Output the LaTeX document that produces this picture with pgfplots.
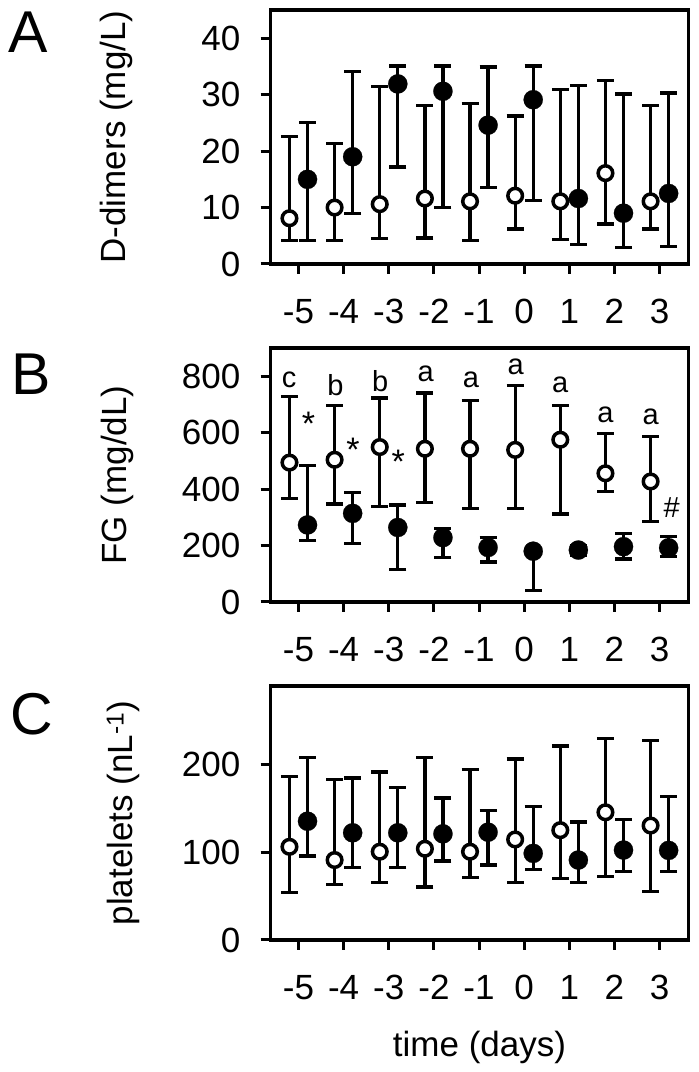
\documentclass[border=0pt]{standalone}
\usepackage{fontspec}
\setmainfont{Liberation Sans}
\usepackage{pgfplots}
\usepackage{pgfplotstable}
\pgfplotsset{compat=1.18}

% D-dimers
\pgfplotstableread{
t y hi lo
-5 8.1 22.6 4.1
-4 10.0 21.4 4.1
-3 10.6 31.4 4.5
-2 11.6 28.1 4.6
-1 11.1 28.4 4.1
0 12.1 26.2 6.2
1 11.1 30.9 4.4
2 16.1 32.5 7.1
3 11.1 28.1 6.2
}\Aopen
\pgfplotstableread{
t y hi lo
-5 15.0 25.1 4.1
-4 19.0 34.1 9.0
-3 31.9 35.1 17.2
-2 30.6 35.1 10.0
-1 24.6 34.9 13.5
0 29.1 35.1 11.3
1 11.6 31.6 3.4
2 9.0 30.1 2.9
3 12.5 30.3 3.1
}\Afill
% FG
\pgfplotstableread{
t y hi lo
-5 494 729 367
-4 504 697 347
-3 549 723 338
-2 543 741 353
-1 543 715 332
0 539 768 332
1 575 697 312
2 456 596 391
3 427 587 284
}\Bopen
\pgfplotstableread{
t y hi lo
-5 273 484 219
-4 314 389 207
-3 264 344 116
-2 228 261 158
-1 193 228 142
0 180 180 41
1 184 201 164
2 196 243 152
3 192 231 160
}\Bfill
% platelets
\pgfplotstableread{
t y hi lo
-5 106.4 186.7 54.2
-4 91.3 183.0 63.6
-3 100.8 191.7 65.5
-2 104.2 208.3 60.6
-1 100.8 194.3 71.2
0 114.8 206.8 65.5
1 125.4 221.6 70.1
2 145.8 230.3 72.3
3 130.7 228.0 55.3
}\Copen
\pgfplotstableread{
t y hi lo
-5 135.6 208.3 95.8
-4 122.4 184.9 82.6
-3 122.4 174.2 82.6
-2 121.2 162.1 90.2
-1 123.1 148.1 85.6
0 98.9 152.7 80.7
1 91.3 134.8 65.5
2 102.7 137.5 78.0
3 102.3 164.0 78.0
}\Cfill

\newcommand\bigfont{\fontsize{35bp}{42bp}\selectfont}
\newcommand\letfont{\fontsize{59bp}{70bp}\selectfont}
\newcommand\annfont{\fontsize{29bp}{34bp}\selectfont}
\newcommand\astfont{\fontsize{34bp}{40bp}\selectfont}

\pgfplotsset{
  panel/.style={
    scale only axis, width=418bp, height=254bp,
    xmin=-5.62, xmax=3.64, ymin=0,
    xtick={-5,-4,-3,-2,-1,0,1,2,3},
    xticklabels={-5,-4,-3,-2,-1,0,1,2,3},
    xtick pos=bottom, ytick pos=left,
    tick align=outside, major tick length=10bp,
    every tick/.style={black, line width=3bp},
    axis line style={black, line width=3.3bp},
    tick label style={font=\bigfont, inner sep=0pt},
    xticklabel style={anchor=north, yshift=-25bp},
    yticklabel style={anchor=east, xshift=-20bp},
    /pgf/number format/assume math mode=true,
    every axis y label/.style={rotate=90, anchor=base, inner sep=0pt, font=\bigfont},
    every axis x label/.style={anchor=base, inner sep=0pt, font=\bigfont},
    error bars/error bar style={black, line width=3.3bp},
    error bars/error mark options={rotate=90, black, line width=3.3bp, mark size=8.5bp},
  },
  openser/.style={only marks, mark=*, mark size=7.3bp,
    mark options={draw=black, fill=white, line width=3.5bp},
    error bars/.cd, y dir=both, y explicit},
  fillser/.style={only marks, mark=*, mark size=9.6bp,
    mark options={draw=black, fill=black, line width=0.2bp},
    error bars/.cd, y dir=both, y explicit},
}

\begin{document}
\begin{tikzpicture}
\useasboundingbox (0,0) rectangle (699bp,1072bp);

% Panel A
\begin{axis}[panel, at={(270.5bp,808bp)}, anchor=south west,
  ymax=45, ytick={0,10,20,30,40},
  ylabel={D-dimers (mg/L)},
  ylabel style={at={(rel axis cs:-0.3469,0.5)}}]
\addplot[openser] table[x expr=\thisrow{t}-0.2, y=y,
  y error plus expr=\thisrow{hi}-\thisrow{y},
  y error minus expr=\thisrow{y}-\thisrow{lo}] {\Aopen};
\addplot[fillser] table[x expr=\thisrow{t}+0.2, y=y,
  y error plus expr=\thisrow{hi}-\thisrow{y},
  y error minus expr=\thisrow{y}-\thisrow{lo}] {\Afill};
\end{axis}

% Panel B
\begin{axis}[panel, at={(270.5bp,470bp)}, anchor=south west,
  ymax=900, ytick={0,200,400,600,800},
  ylabel={FG (mg/dL)},
  ylabel style={at={(rel axis cs:-0.3445,0.5)}}]
\addplot[openser] table[x expr=\thisrow{t}-0.2, y=y,
  y error plus expr=\thisrow{hi}-\thisrow{y},
  y error minus expr=\thisrow{y}-\thisrow{lo}] {\Bopen};
\addplot[fillser] table[x expr=\thisrow{t}+0.2, y=y,
  y error plus expr=\thisrow{hi}-\thisrow{y},
  y error minus expr=\thisrow{y}-\thisrow{lo}] {\Bfill};
\begin{scope}[every node/.style={inner sep=0pt, font=\annfont}]
\node at (axis cs:-5.21,788) {c};
\node at (axis cs:-4.18,768) {b};
\node at (axis cs:-3.19,783) {b};
\node at (axis cs:-2.18,810) {a};
\node at (axis cs:-1.18,788) {a};
\node at (axis cs:-0.19,834) {a};
\node at (axis cs:0.80,768) {a};
\node at (axis cs:1.80,664) {a};
\node at (axis cs:2.80,656) {a};
\node at (axis cs:3.27,335) {\#};
\end{scope}
\begin{scope}[every node/.style={inner sep=0pt, font=\astfont}]
\node at (axis cs:-4.78,630) {*};
\node at (axis cs:-3.79,541) {*};
\node at (axis cs:-2.79,495) {*};
\end{scope}
\end{axis}

% Panel C
\begin{axis}[panel, at={(270.5bp,132bp)}, anchor=south west,
  ymax=290, ytick={0,100,200},
  ylabel={platelets (nL\textsuperscript{-1})},
  ylabel style={at={(rel axis cs:-0.3301,0.5)}},
  xlabel={time (days)},
  xlabel style={at={(rel axis cs:0.5,-0.4606)}}]
\addplot[openser] table[x expr=\thisrow{t}-0.2, y=y,
  y error plus expr=\thisrow{hi}-\thisrow{y},
  y error minus expr=\thisrow{y}-\thisrow{lo}] {\Copen};
\addplot[fillser] table[x expr=\thisrow{t}+0.2, y=y,
  y error plus expr=\thisrow{hi}-\thisrow{y},
  y error minus expr=\thisrow{y}-\thisrow{lo}] {\Cfill};
\end{axis}

% Panel letters
\node[anchor=base west, inner sep=0pt, font=\letfont] at (8bp,1019bp) {A};
\node[anchor=base west, inner sep=0pt, font=\letfont] at (11bp,677bp) {B};
\node[anchor=base west, inner sep=0pt, font=\letfont] at (10bp,337bp) {C};
\end{tikzpicture}
\end{document}
